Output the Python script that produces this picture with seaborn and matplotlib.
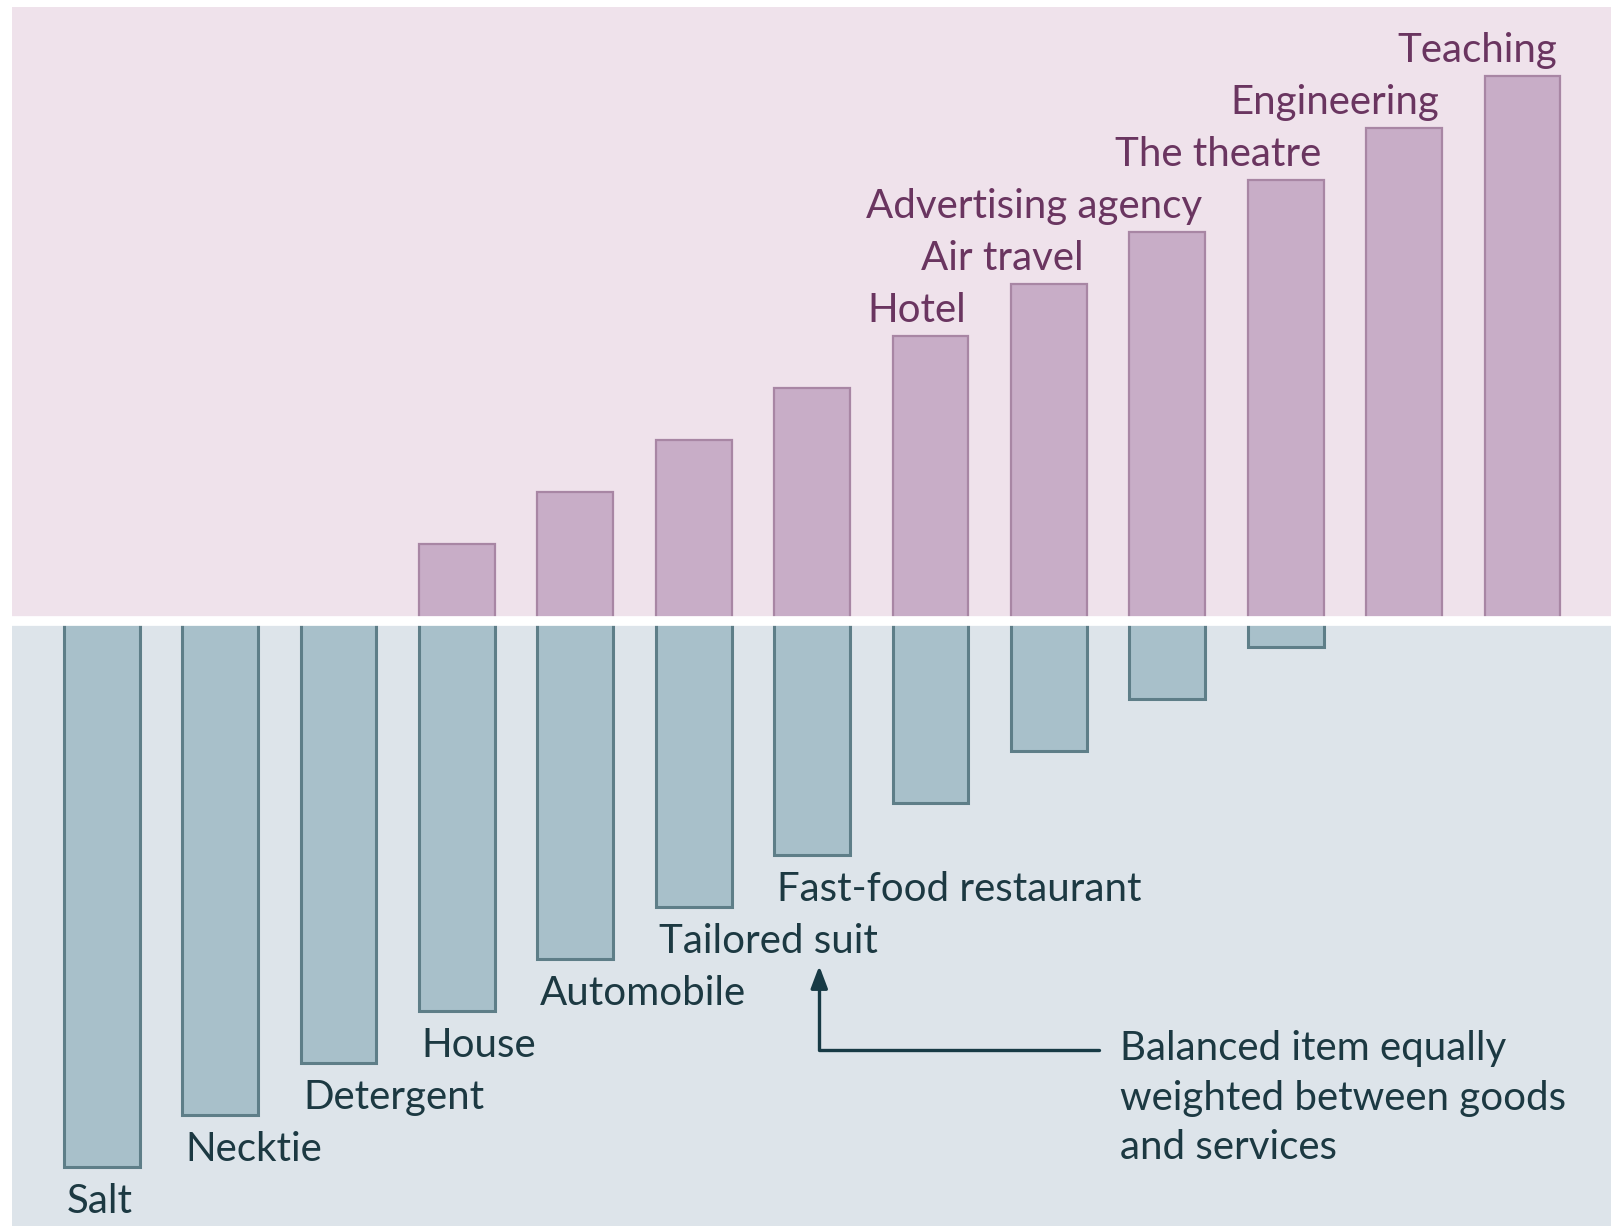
import matplotlib
matplotlib.use("Agg")
import matplotlib.pyplot as plt
import seaborn as sns
import pandas as pd

# Goods-services spectrum: each item split into a tangible (goods) and intangible (services) share
items = ["Salt", "Necktie", "Detergent", "House", "Automobile", "Tailored suit",
         "Fast-food restaurant", "Hotel", "Air travel", "Advertising agency",
         "The theatre", "Engineering", "Teaching"]
services = [0, 0, 0, 1.5, 2.5, 3.5, 4.5, 5.5, 6.5, 7.5, 8.5, 9.5, 10.5]
goods = [10.5, 9.5, 8.5, 7.5, 6.5, 5.5, 4.5, 3.5, 2.5, 1.5, 0.5, 0, 0]
note = "Balanced item equally\nweighted between goods\nand services"

PINK_BG = "#EFE2EB"
BLUE_BG = "#DDE4EA"
SERV_FILL = "#C8ADC7"
SERV_EDGE = "#A886A4"
GOOD_FILL = "#A8C0CA"
GOOD_EDGE = "#5E7E88"
SERV_TEXT = "#6A3560"
GOOD_TEXT = "#1C3942"

sns.set_theme(style="white")
plt.rcParams["font.family"] = ["Lato", "DejaVu Sans"]

df = pd.DataFrame({"item": items, "services": services,
                   "goods_neg": [-g for g in goods]})

fig = plt.figure(figsize=(16.11, 12.26), dpi=100)
ax = fig.add_axes([12 / 1611, 0, 1 - 12 / 1611, (1226 - 7) / 1226])

ax.axhspan(0, 12, color=PINK_BG, zorder=0, lw=0)
ax.axhspan(-12, 0, color=BLUE_BG, zorder=0, lw=0)

bar_w = 0.64
sns.barplot(data=df, x="item", y="services", color=SERV_FILL, saturation=1,
            edgecolor=SERV_EDGE, linewidth=1.6, width=bar_w, ax=ax, zorder=2)
sns.barplot(data=df, x="item", y="goods_neg", color=GOOD_FILL, saturation=1,
            edgecolor=GOOD_EDGE, linewidth=2.2, width=bar_w, ax=ax, zorder=2)

# hide bars with zero height
for p in ax.patches:
    if abs(p.get_height()) < 1e-9:
        p.set_visible(False)

ax.set_xlim(-0.758, 12.747)
ax.set_ylim(-11.64, 11.83)

# white divider between the two halves
ax.axhline(0, color="white", lw=7, zorder=3)

fs = 29
for i, (name, s, g) in enumerate(zip(items, services, goods)):
    if s >= 5.5:
        ax.annotate(name, xy=(i + bar_w / 2, s), xytext=(-2, 10),
                    textcoords="offset points", ha="right", va="baseline",
                    fontsize=fs, color=SERV_TEXT, zorder=4)
    else:
        ax.annotate(name, xy=(i - bar_w / 2, -g), xytext=(2, -33),
                    textcoords="offset points", ha="left", va="baseline",
                    fontsize=fs, color=GOOD_TEXT, zorder=4)

# pointer to the balanced item
ax.annotate("", xy=(6.06, -6.63), xytext=(8.42, -8.25),
            arrowprops=dict(arrowstyle="-|>,head_length=0.45,head_width=0.17",
                            connectionstyle="angle,angleA=0,angleB=90,rad=0",
                            color="#173A45", lw=2.4, shrinkA=0, shrinkB=0,
                            mutation_scale=30),
            zorder=4)
ax.text(8.60, -7.86, note, ha="left", va="top", fontsize=fs,
        color=GOOD_TEXT, linespacing=1.43, zorder=4)

ax.set_xlabel("")
ax.set_ylabel("")
ax.set_xticks([])
ax.set_yticks([])
for sp in ax.spines.values():
    sp.set_visible(False)

fig.savefig("out.png", dpi=100, facecolor="white")
